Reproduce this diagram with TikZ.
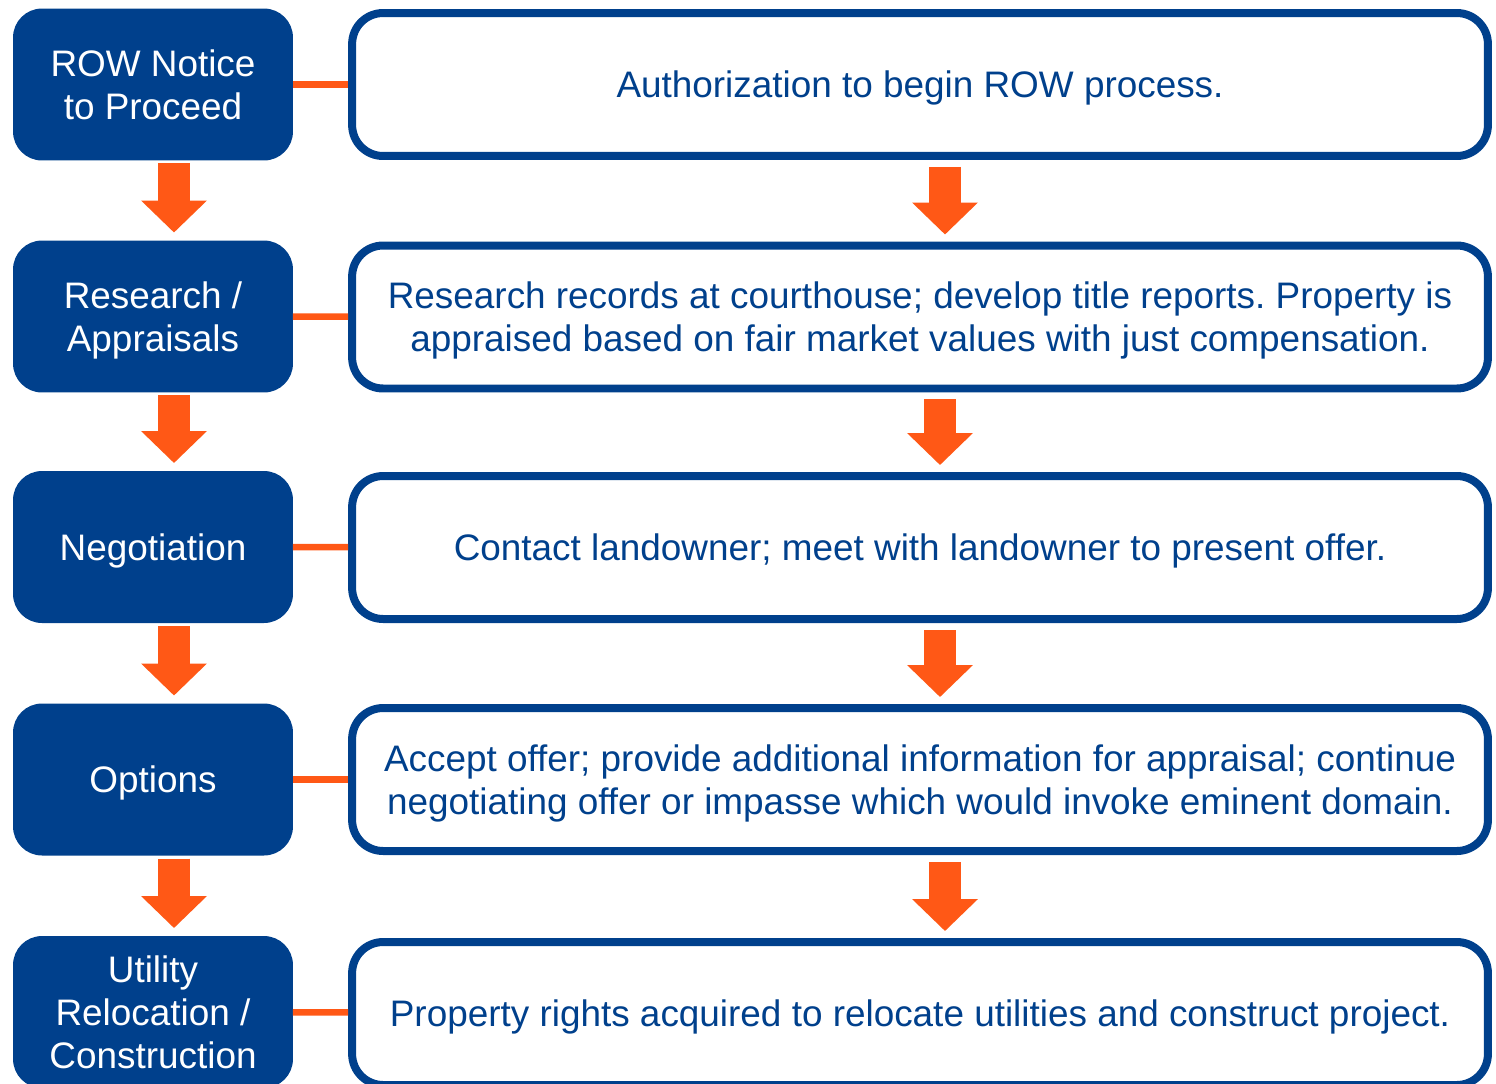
\documentclass[tikz,border=0pt]{standalone}
\usepackage{fontspec}
\setmainfont{Liberation Sans}
\usepackage{tikz}
\usetikzlibrary{calc,arrows.meta}
\frenchspacing
\definecolor{rowblue}{RGB}{0,64,140}
\definecolor{roworange}{RGB}{255,88,22}
\tikzset{
stage/.style={fill=rowblue,text=white,rounded corners=0.58cm,minimum width=5.6cm,minimum height=3.04cm,align=center,outer sep=0pt,text depth=0pt,font=\fontsize{21}{24.5}\selectfont},
detail/.style={draw=rowblue,line width=0.16cm,fill=white,text=rowblue,rounded corners=0.62cm,minimum width=22.72cm,minimum height=2.86cm,align=center,text depth=0pt,font=\fontsize{21}{24.5}\selectfont},
link/.style={draw=roworange,line width=0.13cm},
down/.style={draw=roworange,line width=0.64cm,-{Triangle[width=1.28cm,length=0.64cm]}}
}

\begin{document}
\begin{tikzpicture}[x=0.02cm,y=-0.02cm]
\useasboundingbox (0,0) rectangle (1496,1083);

\node[stage](s1) at (153,84.5) {ROW Notice\\to Proceed};
\node[stage](s2) at (153,316.5) {Research /\\Appraisals};
\node[stage](s3) at (153,547) {Negotiation};
\node[stage](s4) at (153,779.5) {Options};
\node[stage](s5) at (153,1012) {Utility\\Relocation /\\Construction};

\node[detail](d1) at (920,84.5) {Authorization to begin ROW process.};
\node[detail](d2) at (920,317) {Research records at courthouse; develop title reports. Property is\\appraised based on fair market values with just compensation.};
\node[detail](d3) at (920,547.5) {Contact landowner; meet with landowner to present offer.};
\node[detail](d4) at (920,779.5) {Accept offer; provide additional information for appraisal; continue\\negotiating offer or impasse which would invoke eminent domain.};
\node[detail](d5) at (920,1013.5) {Property rights acquired to relocate utilities and construct project.};

\draw[link](s1)--(d1);
\draw[link](s2)--(d2);
\draw[link](s3)--(d3);
\draw[link](s4)--(d4);
\draw[link](s5)--(d5);

\draw[down]($(s1.south)+(21,3)$)--($(s2.north)+(21,-8)$);
\draw[down]($(s2.south)+(21,3)$)--($(s3.north)+(21,-8)$);
\draw[down]($(s3.south)+(21,3)$)--($(s4.north)+(21,-8)$);
\draw[down]($(s4.south)+(21,3)$)--($(s5.north)+(21,-8)$);

\draw[down]($(d1.south)+(25,7)$)--($(d2.north)+(25,-7)$);
\draw[down]($(d2.south)+(20,7)$)--($(d3.north)+(20,-7)$);
\draw[down]($(d3.south)+(20,7)$)--($(d4.north)+(20,-7)$);
\draw[down]($(d4.south)+(25,7)$)--($(d5.north)+(25,-7)$);

\end{tikzpicture}
\end{document}
